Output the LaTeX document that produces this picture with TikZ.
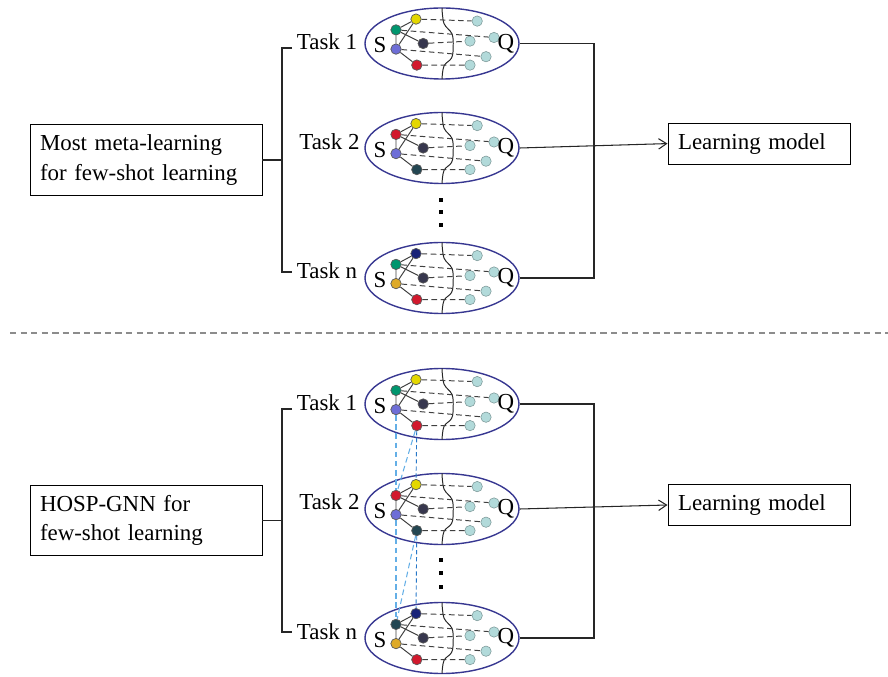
\documentclass[tikz,border=0pt]{standalone}
\usepackage{fontspec}
\setmainfont{Liberation Serif}
\usepackage{xcolor}
\usepackage{tikz}
\usetikzlibrary{arrows.meta, shapes.geometric}

\definecolor{ellC}{RGB}{55,55,145}
\definecolor{nodeY}{RGB}{228,215,0}
\definecolor{nodeG}{RGB}{0,150,110}
\definecolor{nodeK}{RGB}{55,55,78}
\definecolor{nodeP}{RGB}{110,110,215}
\definecolor{nodeR}{RGB}{210,25,45}
\definecolor{nodeT}{RGB}{35,70,82}
\definecolor{nodeN}{RGB}{25,35,120}
\definecolor{nodeO}{RGB}{222,170,40}
\definecolor{nodeC}{RGB}{178,218,218}
\definecolor{blueL}{RGB}{100,175,230}
\definecolor{blueD}{RGB}{40,120,200}

%% one task: ellipse, support set S, query set Q
%% #1 name, #2 centre, #3--#7 colours of the support nodes
\newcommand{\taskcell}[7]{%
  \node[cell] (#1) at (#2) {};
  \begin{scope}[shift={(#2)}]
    \draw[split] plot[smooth, tension=0.6] coordinates
      {(0,0.89) (0.05,0.5) (0.25,0.24) (0.28,-0.08) (0.24,-0.36) (0.05,-0.56) (0,-0.89)};
    \node[snode, fill=#3] (#1-s1) at (-0.65, 0.61) {};
    \node[snode, fill=#4] (#1-s2) at (-1.15, 0.34) {};
    \node[snode, fill=#5] (#1-s3) at (-0.47, 0.00) {};
    \node[snode, fill=#6] (#1-s4) at (-1.15,-0.14) {};
    \node[snode, fill=#7] (#1-s5) at (-0.63,-0.54) {};
    \node[qnode] (#1-q1) at (0.88, 0.56) {};
    \node[qnode] (#1-q2) at (1.30, 0.15) {};
    \node[qnode] (#1-q3) at (0.70, 0.06) {};
    \node[qnode] (#1-q4) at (1.10,-0.33) {};
    \node[qnode] (#1-q5) at (0.70,-0.54) {};
    \draw[edge] (#1-s1) -- (#1-s2)  (#1-s1) -- (#1-s4)  (#1-s2) -- (#1-s3)
                (#1-s2) -- (#1-s4)  (#1-s4) -- (#1-s5);
    \draw[qlink] (#1-s1) -- (#1-q1)  (#1-s2) -- (#1-q2)  (#1-s3) -- (#1-q3)
                 (#1-s4) -- (#1-q4)  (#1-s5) -- (#1-q5);
    \node[setlbl] (#1-S) at (-1.55,-0.04) {S};
    \node[setlbl] (#1-Q) at ( 1.60, 0.00) {Q};
  \end{scope}}

\begin{document}
\begin{tikzpicture}[
    txt/.style={font=\fontsize{16.3pt}{21pt}\selectfont},
    cell/.style={ellipse, draw=ellC, line width=1pt, inner sep=0pt,
                 minimum width=3.85cm, minimum height=1.775cm},
    snode/.style={circle, draw=black!65, line width=0.5pt, inner sep=0pt,
                  minimum size=0.26cm},
    qnode/.style={circle, draw=nodeC!70!black, fill=nodeC, line width=0.4pt,
                  inner sep=0pt, minimum size=0.26cm},
    edge/.style={black!75, line width=0.7pt},
    qlink/.style={black!75, line width=0.7pt, dash pattern=on 4pt off 2.5pt},
    split/.style={black!85, line width=0.7pt},
    setlbl/.style={txt, inner sep=0pt},
    tasklbl/.style={txt, anchor=west},
    textbox/.style={txt, draw, line width=0.7pt, align=left, inner sep=0.25cm},
    wire/.style={black!85, line width=0.75pt},
    arr/.style={wire, -{Straight Barb[length=2mm, width=2.6mm]}},
    xlinkL/.style={blueL, line width=0.75pt, dash pattern=on 4pt off 2.5pt},
    xlinkD/.style={blueD, line width=0.65pt, dash pattern=on 3pt off 2pt},
    sep/.style={black!45, line width=1.2pt, dash pattern=on 4.5pt off 3pt}
  ]
  \useasboundingbox (0,0) rectangle (22.2,-16.925);

  %% ── Upper half: most meta-learning ─────────────────────────
  \node[textbox, text width=5.3cm, minimum height=1.625cm] (boxA) at (3.65,-4.0)
    {Most meta-learning\\for few-shot learning};
  \node[textbox, text width=4.05cm, minimum height=0.925cm] (learnA) at (18.975,-3.59)
    {Learning model};

  \taskcell{a1}{11.05,-1.0875}{nodeY}{nodeG}{nodeK}{nodeP}{nodeR}
  \taskcell{a2}{11.05,-3.7}{nodeY}{nodeR}{nodeK}{nodeP}{nodeT}
  \taskcell{an}{11.05,-6.95}{nodeN}{nodeG}{nodeK}{nodeO}{nodeR}

  \node[tasklbl] (t-a1) at (7.3,-1.05) {Task 1};
  \node[tasklbl] (t-a2) at (7.36,-3.55) {Task 2};
  \node[tasklbl] (t-an) at (7.3,-6.775) {Task n};

  % bracket
  \coordinate (brA1) at (7.05,-1.2);
  \coordinate (brAn) at (7.05,-6.8);
  \draw[wire] (t-a1.west |- brA1) -- (brA1) -- (brAn) -- (t-an.west |- brAn);
  \draw[wire] (boxA.east) -- (boxA.east -| brA1);

  % outputs
  \coordinate (jA) at (14.85,0);
  \draw[wire] (a1.east) -- (a1.east -| jA) |- (an.east);
  \draw[arr] (a2.east) -- (learnA.west);

  \foreach \y in {-5.0,-5.3,-5.625}
    \fill (11.025,\y) +(-0.05,-0.05) rectangle +(0.05,0.05);

  %% ── Separator ──────────────────────────────────────────────
  \draw[sep] (0.25,-8.325) -- (22.2,-8.325);

  %% ── Lower half: HOSP-GNN ───────────────────────────────────
  \node[textbox, text width=5.3cm, minimum height=1.625cm] (boxB) at (3.65,-13.01)
    {HOSP-GNN for\\few-shot learning};
  \node[textbox, text width=4.05cm, minimum height=0.9cm] (learnB) at (18.975,-12.625)
    {Learning model};

  \taskcell{b1}{11.05,-10.1}{nodeY}{nodeG}{nodeK}{nodeP}{nodeR}
  \taskcell{b2}{11.05,-12.725}{nodeY}{nodeR}{nodeK}{nodeP}{nodeT}
  \taskcell{bn}{11.05,-15.95}{nodeN}{nodeT}{nodeK}{nodeO}{nodeR}

  \node[tasklbl] (t-b1) at (7.3,-10.075) {Task 1};
  \node[tasklbl] (t-b2) at (7.36,-12.55) {Task 2};
  \node[tasklbl] (t-bn) at (7.3,-15.8) {Task n};

  % bracket
  \coordinate (brB1) at (7.05,-10.225);
  \coordinate (brBn) at (7.05,-15.8);
  \draw[wire] (t-b1.west |- brB1) -- (brB1) -- (brBn) -- (t-bn.west |- brBn);
  \draw[wire] (boxB.east) -- (boxB.east -| brB1);

  % outputs
  \coordinate (jB) at (14.85,0);
  \draw[wire] (b1.east) -- (b1.east -| jB) |- (bn.east);
  \draw[arr] (b2.east) -- (learnB.west);

  \foreach \y in {-14.0,-14.325,-14.675}
    \fill (11.025,\y) +(-0.05,-0.05) rectangle +(0.05,0.05);

  % high-order links between tasks
  \draw[xlinkL] (b1-s4) -- (b2-s2);
  \draw[xlinkL] (b2-s4) -- (bn-s2);
  \draw[xlinkL] (b1-s5) -- (b2-s2);
  \draw[xlinkD] (b1-s5) -- (b2-s1);
  \draw[xlinkD] (b2-s5) -- (bn-s1);
  \draw[xlinkL] (b2-s5) -- (bn-s2);

\end{tikzpicture}
\end{document}
